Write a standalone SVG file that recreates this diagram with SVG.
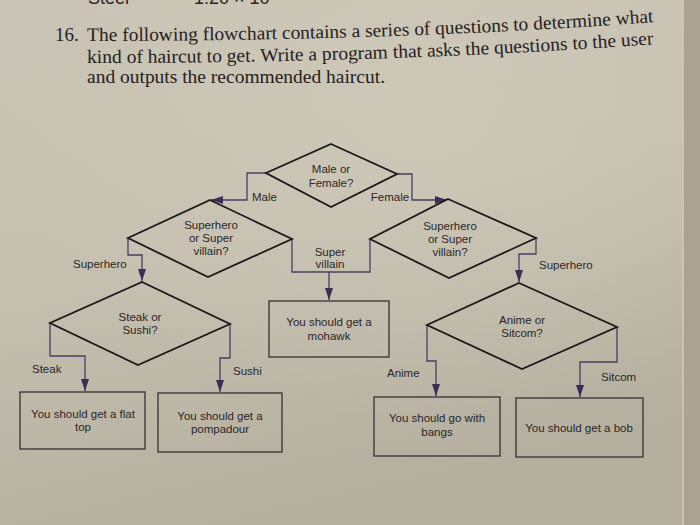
<svg xmlns="http://www.w3.org/2000/svg" width="700" height="525" viewBox="0 0 700 525">
<defs>
  <linearGradient id="paper" x1="0" y1="0" x2="0.3" y2="1">
    <stop offset="0" stop-color="#c9c4b5"/>
    <stop offset="0.5" stop-color="#c6c0b0"/>
    <stop offset="1" stop-color="#b5af9f"/>
  </linearGradient>
  <radialGradient id="glow" cx="0.6" cy="0.2" r="0.6">
    <stop offset="0" stop-color="#d2ccbc" stop-opacity="0.6"/>
    <stop offset="1" stop-color="#d2ccbc" stop-opacity="0"/>
  </radialGradient>
  <marker id="arr" viewBox="0 0 12 8" refX="12" refY="4" markerWidth="12" markerHeight="8" markerUnits="userSpaceOnUse" orient="auto">
    <path d="M0,0 L12,4 L0,8 Z" fill="#3a2d57"/>
  </marker>
  <path id="l1" d="M87,41 Q400,41 656,22"/>
  <path id="l2" d="M87,63 Q400,63 656,44"/>
</defs>
<style>
  .title { font-family: "Liberation Serif", serif; font-size: 19px; fill: #26211e; }
  .frag { font-family: "Liberation Sans", sans-serif; font-size: 18px; fill: #2a2522; }
  .dia { fill: none; stroke: #1a1818; stroke-width: 1.8; stroke-linejoin: miter; }
  .box { fill: none; stroke: #353131; stroke-width: 1.3; }
  .con { fill: none; stroke: #4a3e62; stroke-width: 1.3; }
  .t { font-family: "Liberation Sans", sans-serif; font-size: 11.5px; fill: #2a2628; text-anchor: middle; }
  .lab { font-family: "Liberation Sans", sans-serif; font-size: 11.5px; fill: #2a2628; }
</style>
<rect width="700" height="525" fill="url(#paper)"/>
<rect width="700" height="525" fill="url(#glow)"/>
<rect x="683" y="0" width="17" height="525" fill="#aaa394"/>
<line x1="683" y1="0" x2="683" y2="525" stroke="#d0cbbd" stroke-width="1.5"/>

<g id="page-text">
  <text class="frag" x="88" y="4">Steel</text>
  <text class="frag" x="194" y="4">1.20 × 10</text>
  <text class="frag" x="272" y="-2" font-size="12">−5</text>
  <text class="title" x="55" y="41">16.</text>
  <text class="title"><textPath href="#l1" textLength="567" lengthAdjust="spacingAndGlyphs">The following flowchart contains a series of questions to determine what</textPath></text>
  <text class="title"><textPath href="#l2" textLength="567" lengthAdjust="spacingAndGlyphs">kind of haircut to get. Write a program that asks the questions to the user</textPath></text>
  <text class="title" x="87" y="83" textLength="298" lengthAdjust="spacingAndGlyphs">and outputs the recommended haircut.</text>
</g>

<g id="connectors">
  <path class="con" d="M266,173 H247 V200 H211" marker-end="url(#arr)"/>
  <path class="con" d="M397,174 H412 V200 H447" marker-end="url(#arr)"/>
  <path class="con" d="M128,238 V255 H142 V281" marker-end="url(#arr)"/>
  <path class="con" d="M292,239 V272 H370 V240"/>
  <path class="con" d="M329,272 V300" marker-end="url(#arr)"/>
  <path class="con" d="M536,238 V254 H519 V282" marker-end="url(#arr)"/>
  <path class="con" d="M50,323 V356 H85 V391" marker-end="url(#arr)"/>
  <path class="con" d="M230,324 V358 H220 V392" marker-end="url(#arr)"/>
  <path class="con" d="M427,325 V361 H436 V396" marker-end="url(#arr)"/>
  <path class="con" d="M617,327 V362 H580 V397" marker-end="url(#arr)"/>
  <text class="lab" x="252" y="201">Male</text>
  <text class="lab" x="390" y="201" text-anchor="middle">Female</text>
  <text class="lab" x="73" y="268">Superhero</text>
  <text class="lab" x="330" y="256" text-anchor="middle">Super</text>
  <text class="lab" x="330" y="268" text-anchor="middle">villain</text>
  <text class="lab" x="539" y="269">Superhero</text>
  <text class="lab" x="32" y="373">Steak</text>
  <text class="lab" x="233" y="375">Sushi</text>
  <text class="lab" x="387" y="377">Anime</text>
  <text class="lab" x="601" y="381">Sitcom</text>
</g>

<g id="q-gender">
  <polygon class="dia" points="331,144 397,174 331,207 266,173"/>
  <text class="t" x="331" y="173">Male or</text>
  <text class="t" x="331" y="187">Female?</text>
</g>
<g id="q-hero-male">
  <polygon class="dia" points="210,200 292,239 208,277 128,238"/>
  <text class="t" x="211" y="229">Superhero</text>
  <text class="t" x="211" y="242">or Super</text>
  <text class="t" x="211" y="255">villain?</text>
</g>
<g id="q-hero-female">
  <polygon class="dia" points="448,199 536,238 449,278 370,239"/>
  <text class="t" x="450" y="230">Superhero</text>
  <text class="t" x="450" y="243">or Super</text>
  <text class="t" x="450" y="256">villain?</text>
</g>
<g id="q-food">
  <polygon class="dia" points="142,282 230,324 138,365 50,323"/>
  <text class="t" x="140" y="321">Steak or</text>
  <text class="t" x="140" y="334">Sushi?</text>
</g>
<g id="q-show">
  <polygon class="dia" points="519,283 617,327 522,369 427,325"/>
  <text class="t" x="522" y="324">Anime or</text>
  <text class="t" x="522" y="337">Sitcom?</text>
</g>
<g id="r-mohawk">
  <rect class="box" x="269" y="301" width="120" height="56"/>
  <text class="t" x="329" y="326">You should get a</text>
  <text class="t" x="329" y="340">mohawk</text>
</g>
<g id="r-flattop">
  <rect class="box" x="20" y="392" width="125" height="57"/>
  <text class="t" x="83" y="418">You should get a flat</text>
  <text class="t" x="83" y="431">top</text>
</g>
<g id="r-pompadour">
  <rect class="box" x="158" y="393" width="124" height="59"/>
  <text class="t" x="220" y="420">You should get a</text>
  <text class="t" x="220" y="433">pompadour</text>
</g>
<g id="r-bangs">
  <rect class="box" x="374" y="397" width="126" height="59"/>
  <text class="t" x="437" y="422">You should go with</text>
  <text class="t" x="437" y="436">bangs</text>
</g>
<g id="r-bob">
  <rect class="box" x="516" y="398" width="127" height="59"/>
  <text class="t" x="579" y="432">You should get a bob</text>
</g>
</svg>
